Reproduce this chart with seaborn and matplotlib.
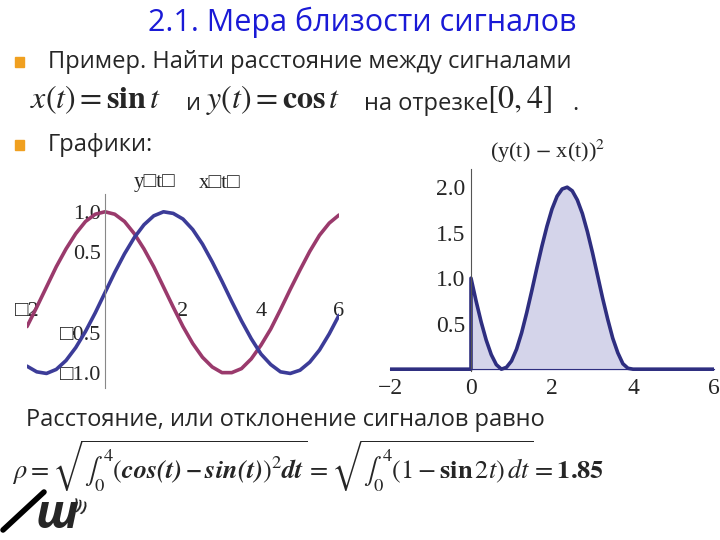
import numpy as np
import pandas as pd
import matplotlib
matplotlib.use("Agg")
import matplotlib.pyplot as plt
import seaborn as sns

# values (step 0.25 on t)
t_left = [-2.0, -1.75, -1.5, -1.25, -1.0, -0.75, -0.5, -0.25, 0.0, 0.25, 0.5, 0.75,
          1.0, 1.25, 1.5, 1.75, 2.0, 2.25, 2.5, 2.75, 3.0, 3.25, 3.5, 3.75,
          4.0, 4.25, 4.5, 4.75, 5.0, 5.25, 5.5, 5.75, 6.0]
y_cos = [-0.42, -0.18, 0.07, 0.32, 0.54, 0.73, 0.88, 0.97, 1.00, 0.97, 0.88, 0.73,
         0.54, 0.32, 0.07, -0.18, -0.42, -0.63, -0.80, -0.92, -0.99, -0.99, -0.94, -0.82,
         -0.65, -0.45, -0.21, 0.04, 0.28, 0.51, 0.71, 0.86, 0.96]
x_sin = [-0.91, -0.98, -1.00, -0.95, -0.84, -0.68, -0.48, -0.25, 0.00, 0.25, 0.48, 0.68,
         0.84, 0.95, 1.00, 0.98, 0.91, 0.78, 0.60, 0.38, 0.14, -0.11, -0.35, -0.57,
         -0.76, -0.89, -0.98, -1.00, -0.96, -0.86, -0.71, -0.51, -0.28]

# (y(t) - x(t))^2 on [0, 4], zero elsewhere; jump at t = 0
t_right = [-2.0, -1.0, 0.0, 0.0, 0.125, 0.25, 0.375, 0.5, 0.625, 0.75, 0.875,
           1.0, 1.125, 1.25, 1.375, 1.5, 1.625, 1.75, 1.875, 2.0, 2.125, 2.25, 2.375,
           2.5, 2.625, 2.75, 2.875, 3.0, 3.125, 3.25, 3.375, 3.5, 3.625, 3.75, 3.875,
           4.0, 5.0, 6.0]
diff_sq = [0.0, 0.0, 0.0, 1.00, 0.75, 0.52, 0.32, 0.16, 0.05, 0.00, 0.02,
           0.09, 0.22, 0.40, 0.62, 0.86, 1.11, 1.35, 1.57, 1.76, 1.90, 1.98, 2.00,
           1.96, 1.86, 1.71, 1.51, 1.28, 1.03, 0.78, 0.55, 0.34, 0.18, 0.06, 0.01,
           0.0, 0.0, 0.0]

left_xticks = [-2, 2, 4, 6]
left_xlabels = ["\u25a12", "2", "4", "6"]
left_yticks = [-1.0, -0.5, 0.5, 1.0]
left_ylabels = ["\u25a11.0", "\u25a10.5", "0.5", "1.0"]
right_xticks = [-2, 0, 2, 4, 6]
right_xlabels = ["\u22122", "0", "2", "4", "6"]
right_yticks = [0.5, 1.0, 1.5, 2.0]

sns.set_style("white")
plt.rcParams["font.family"] = ["Open Sans", "DejaVu Sans"]
plt.rcParams["mathtext.fontset"] = "stix"
serif = ["Liberation Serif", "DejaVu Sans"]

W, H = 720, 540
fig = plt.figure(figsize=(7.2, 5.4), dpi=100)


def px(x, y):
    return x / W, 1 - y / H


def axes_px(x0, y0, x1, y1):
    return fig.add_axes([x0 / W, 1 - y1 / H, (x1 - x0) / W, (y1 - y0) / H])


# ---- left plot: y(t)=cos t, x(t)=sin t
ax1 = axes_px(27, 194, 339, 388)
df_l = pd.DataFrame({"t": t_left, "cos": y_cos, "sin": x_sin})
sns.lineplot(data=df_l, x="t", y="cos", ax=ax1, color="#9a3a6c", lw=2.6)
sns.lineplot(data=df_l, x="t", y="sin", ax=ax1, color="#3c3c98", lw=2.6)
ax1.set_xlim(-2, 6)
ax1.set_ylim(-1.18, 1.22)
for s in ["top", "right"]:
    ax1.spines[s].set_visible(False)
ax1.spines["left"].set_position(("data", 0))
ax1.spines["bottom"].set_position(("data", 0))
ax1.spines["left"].set_color("#888888")
ax1.spines["left"].set_linewidth(0.8)
ax1.spines["bottom"].set_visible(False)
ax1.set_xticks(left_xticks)
ax1.set_xticklabels(left_xlabels, family=serif, fontsize=16)
ax1.set_yticks(left_yticks)
ax1.set_yticklabels(left_ylabels, family=serif, fontsize=16)
ax1.tick_params(axis="x", length=3, color="#aaaaaa", pad=5, direction="inout")
ax1.tick_params(axis="y", length=3, color="#888888", pad=0)
ax1.set_xlabel("")
ax1.set_ylabel("")
ax1.patch.set_alpha(0)

# ---- right plot: (y(t) - x(t))^2
ax2 = axes_px(390, 169, 714, 371)
df_r = pd.DataFrame({"t": t_right, "d": diff_sq})
ax2.fill_between(df_r["t"], df_r["d"], color="#d4d4ea")
sns.lineplot(data=df_r, x="t", y="d", ax=ax2, color="#2e2e80", lw=2.6,
             estimator=None, sort=False)
ax2.set_xlim(-2, 6)
ax2.set_ylim(-0.02, 2.2)
for s in ["top", "right"]:
    ax2.spines[s].set_visible(False)
ax2.spines["left"].set_position(("data", 0))
ax2.spines["left"].set_color("#555555")
ax2.spines["left"].set_linewidth(0.8)
ax2.spines["bottom"].set_position(("data", 0))
ax2.spines["bottom"].set_color("#2e2e80")
ax2.set_xticks(right_xticks)
ax2.set_xticklabels(right_xlabels, family=serif, fontsize=17)
ax2.set_yticks(right_yticks)
ax2.set_yticklabels([f"{v:.1f}" for v in right_yticks], family=serif, fontsize=17)
ax2.tick_params(axis="x", length=3, pad=3, color="#555555")
ax2.tick_params(axis="y", length=3, pad=1, color="#555555")
ax2.set_xlabel("")
ax2.set_ylabel("")
ax2.patch.set_alpha(0)

# ---- slide text
fig.text(*px(362, 22), "2.1. Мера близости сигналов", color="#1a1ad6",
         fontsize=22, ha="center", va="center")
for by in [62, 145]:
    fig.patches.append(plt.Rectangle(px(15, by + 5), 9 / W, 10 / H, color="#f0a020",
                                     transform=fig.transFigure, figure=fig))
fig.text(*px(48, 62), "Пример. Найти расстояние между сигналами", fontsize=17,
         ha="left", va="center")
fig.text(*px(30, 100), r"$x(t) = \mathbf{sin}\,t$", fontsize=23, ha="left", va="center")
fig.text(*px(186, 104), "и", fontsize=17, ha="left", va="center")
fig.text(*px(206, 100), r"$y(t) = \mathbf{cos}\,t$", fontsize=23, ha="left", va="center")
fig.text(*px(364, 104), "на отрезке", fontsize=17, ha="left", va="center")
fig.text(*px(487, 100), r"$[0,4]$", fontsize=23, ha="left", va="center")
fig.text(*px(572, 104), ".", fontsize=17, ha="left", va="center")
fig.text(*px(48, 145), "Графики:", fontsize=17, ha="left", va="center")

fig.text(*px(134, 183), "y\u25a1t\u25a1", family=serif, fontsize=15, ha="left", va="center")
fig.text(*px(199, 183), "x\u25a1t\u25a1", family=serif, fontsize=15, ha="left", va="center")
fig.text(*px(490, 151), r"(y(t) $-$ x(t))$^2$", family=serif, fontsize=16,
         ha="left", va="center")

fig.text(*px(26, 420), "Расстояние, или отклонение сигналов равно", fontsize=17,
         ha="left", va="center")
fig.text(*px(12, 466),
         r"$\rho = \sqrt{\int_0^4 (\mathbfit{cos(t) - sin(t)})^2\mathbfit{dt}}"
         r" = \sqrt{\int_0^4 (1 - \mathbf{sin}\,2t)\,dt} = \mathbf{1.85}$",
         fontsize=19, ha="left", va="center")

# logo (rough)
fig.lines.append(plt.Line2D([3 / W, 44 / W], [1 - 530 / H, 1 - 492 / H], lw=4,
                            color="black", transform=fig.transFigure, figure=fig))
fig.text(*px(36, 515), "ш", fontsize=34, fontweight="bold", style="italic",
         ha="left", va="center")
fig.text(*px(70, 506), ")))", fontsize=11, fontweight="bold", rotation=-20,
         ha="left", va="center")

fig.savefig("out.png", dpi=100)
